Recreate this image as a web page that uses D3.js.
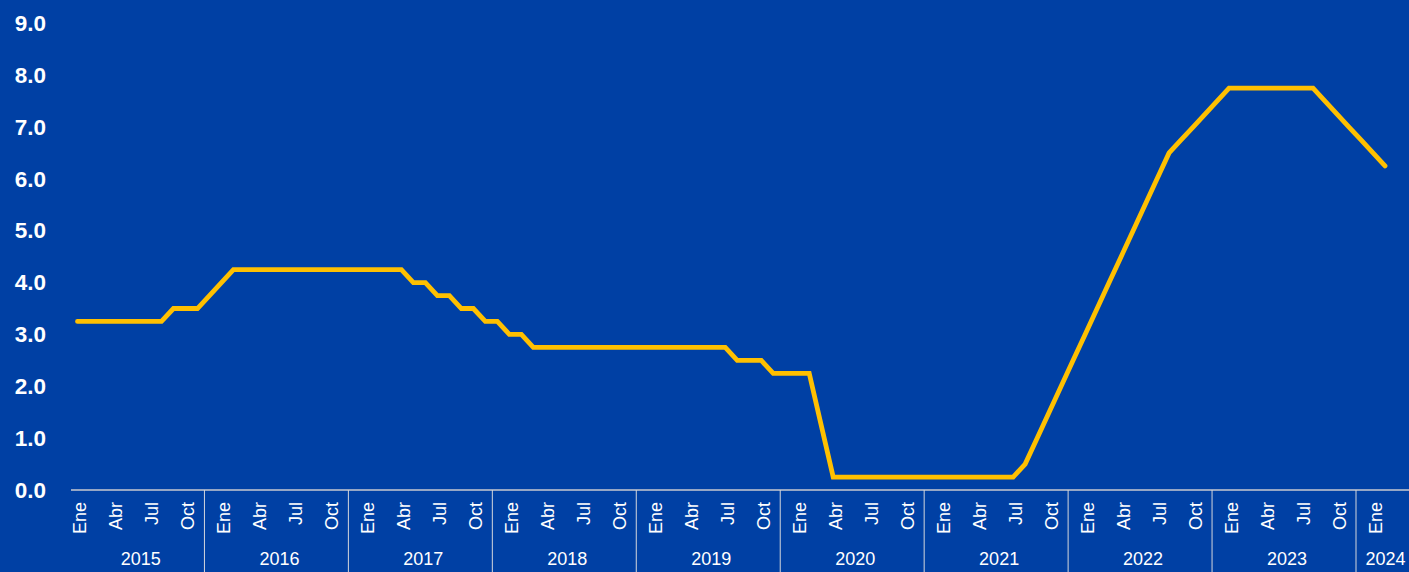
<!DOCTYPE html>
<html lang="es">
<head>
<meta charset="utf-8">
<title>Tasa de referencia</title>
<script src="https://cdn.jsdelivr.net/npm/d3@7/dist/d3.min.js"></script>
<style>
  html, body { margin: 0; padding: 0; background: #0040a4; }
  svg { display: block; }
</style>
</head>
<body>
<svg id="chart" width="1409" height="572"></svg>
<script>
// Month names (Spanish) and the ones shown on the axis
const monthNames = ["Ene", "Feb", "Mar", "Abr", "May", "Jun", "Jul", "Ago", "Sep", "Oct", "Nov", "Dic"];
const shownMonths = ["Ene", "Abr", "Jul", "Oct"];
const years = [2015, 2016, 2017, 2018, 2019, 2020, 2021, 2022, 2023, 2024];
const yTicks = [0, 1, 2, 3, 4, 5, 6, 7, 8, 9];

// Monthly reference rate (%), Jan 2015 – Feb 2024
const rates = [
  // 2015
  3.25, 3.25, 3.25, 3.25, 3.25, 3.25, 3.25, 3.25, 3.5, 3.5, 3.5, 3.75,
  // 2016
  4.0, 4.25, 4.25, 4.25, 4.25, 4.25, 4.25, 4.25, 4.25, 4.25, 4.25, 4.25,
  // 2017
  4.25, 4.25, 4.25, 4.25, 4.0, 4.0, 3.75, 3.75, 3.5, 3.5, 3.25, 3.25,
  // 2018
  3.0, 3.0, 2.75, 2.75, 2.75, 2.75, 2.75, 2.75, 2.75, 2.75, 2.75, 2.75,
  // 2019
  2.75, 2.75, 2.75, 2.75, 2.75, 2.75, 2.75, 2.5, 2.5, 2.5, 2.25, 2.25,
  // 2020
  2.25, 2.25, 1.25, 0.25, 0.25, 0.25, 0.25, 0.25, 0.25, 0.25, 0.25, 0.25,
  // 2021
  0.25, 0.25, 0.25, 0.25, 0.25, 0.25, 0.25, 0.5, 1.0, 1.5, 2.0, 2.5,
  // 2022
  3.0, 3.5, 4.0, 4.5, 5.0, 5.5, 6.0, 6.5, 6.75, 7.0, 7.25, 7.5,
  // 2023
  7.75, 7.75, 7.75, 7.75, 7.75, 7.75, 7.75, 7.75, 7.5, 7.25, 7.0, 6.75,
  // 2024
  6.5, 6.25
];

// Month keys "YYYY-M" matching each value
const keys = years.flatMap(y => monthNames.map((m, i) => ({ key: `${y}-${i}`, year: y, month: m })))
  .slice(0, rates.length);
const data = keys.map((k, i) => ({ ...k, value: rates[i] }));

const W = 1409, H = 572;
const axisY = 490;
const axisLeftX = 71;
const sepOffset = 17;

const svg = d3.select("#chart");

svg.append("rect").attr("width", W).attr("height", H).attr("fill", "#0040a4");

const x = d3.scalePoint().domain(keys.map(k => k.key)).range([77.5, 1385]);
const y = d3.scaleLinear().domain([0, 9]).range([axisY, 23.3]);

// Y axis labels
const yAxis = svg.append("g")
  .attr("transform", "translate(46,0)")
  .call(d3.axisLeft(y).tickValues(yTicks).tickFormat(d3.format(".1f")).tickSize(0).tickPadding(0));
yAxis.select(".domain").remove();
yAxis.selectAll("text")
  .attr("fill", "#ffffff")
  .style("font-family", "'Liberation Sans', Arial, sans-serif")
  .style("font-size", "22.5px")
  .style("font-weight", "bold");

// X axis baseline
svg.append("line")
  .attr("x1", axisLeftX).attr("x2", W)
  .attr("y1", axisY).attr("y2", axisY)
  .attr("stroke", "#c8cad0").attr("stroke-width", 1.6);

// Month labels, rotated
const monthAxis = svg.append("g")
  .attr("transform", `translate(0,${axisY})`)
  .call(d3.axisBottom(x)
    .tickValues(keys.filter(k => shownMonths.includes(k.month)).map(k => k.key))
    .tickFormat(k => monthNames[+k.split("-")[1]])
    .tickSize(0));
monthAxis.select(".domain").remove();
monthAxis.selectAll("text")
  .attr("transform", "rotate(-90)")
  .attr("text-anchor", "end")
  .attr("x", -12)
  .attr("y", 2)
  .attr("dy", "0.35em")
  .attr("fill", "#ffffff")
  .style("font-family", "'Liberation Sans', Arial, sans-serif")
  .style("font-size", "18px");

// Year group separators and labels
const yearStart = yr => x(`${yr}-0`) - sepOffset;
years.slice(1).forEach(yr => {
  svg.append("line")
    .attr("x1", yearStart(yr)).attr("x2", yearStart(yr))
    .attr("y1", axisY).attr("y2", H)
    .attr("stroke", "#d4d6dc").attr("stroke-width", 1);
});
years.forEach((yr, i) => {
  const left = i === 0 ? axisLeftX : yearStart(yr);
  const right = i === years.length - 1 ? W : yearStart(years[i + 1]);
  svg.append("text")
    .attr("x", (left + right) / 2 + 3)
    .attr("y", 565)
    .attr("text-anchor", "middle")
    .attr("fill", "#ffffff")
    .style("font-family", "'Liberation Sans', Arial, sans-serif")
    .style("font-size", "18px")
    .text(yr);
});

// Rate line
const line = d3.line().x(d => x(d.key)).y(d => y(d.value));
svg.append("path")
  .datum(data)
  .attr("d", line)
  .attr("fill", "none")
  .attr("stroke", "#ffc000")
  .attr("stroke-width", 4.8)
  .attr("stroke-linecap", "round")
  .attr("stroke-linejoin", "miter");
</script>
</body>
</html>
